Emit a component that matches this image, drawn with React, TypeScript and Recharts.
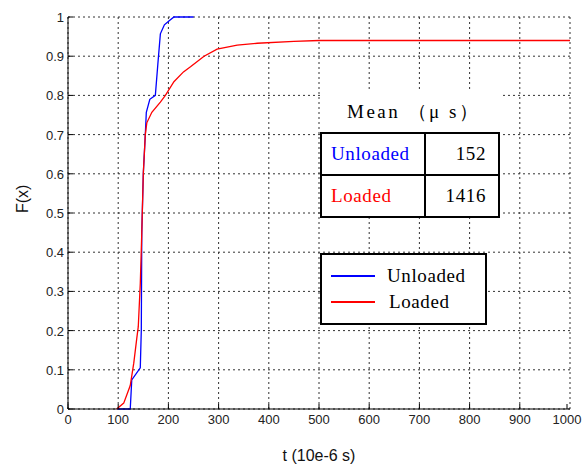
import React from "react";
import { LineChart, Line, XAxis, YAxis, CartesianGrid } from "recharts";

// CDF samples (t in 10e-6 s, F(x))
const unloadedT = [98, 124, 127, 144, 146, 147, 150, 154, 156, 163, 174, 179, 184, 192, 201, 211, 250];
const unloadedF = [0, 0, 0.074, 0.105, 0.2, 0.45, 0.6, 0.7, 0.757, 0.79, 0.8, 0.88, 0.957, 0.98, 0.99, 1, 1];

const loadedT = [97, 111, 124, 131, 137, 140, 144, 147, 150, 154, 157, 167, 184, 194, 211, 230, 244, 271, 297, 337, 377, 450, 500, 1000];
const loadedF = [0, 0.015, 0.06, 0.117, 0.18, 0.21, 0.32, 0.45, 0.6, 0.7, 0.73, 0.757, 0.783, 0.8, 0.835, 0.86, 0.873, 0.9, 0.918, 0.928, 0.933, 0.938, 0.94, 0.94];

const xTicks = [0, 100, 200, 300, 400, 500, 600, 700, 800, 900, 1000];
const yTicks = [0, 0.1, 0.2, 0.3, 0.4, 0.5, 0.6, 0.7, 0.8, 0.9, 1];

const meanLabels = ["Unloaded", "Loaded"];
const meanValues = [152, 1416];

const unloadedData = unloadedT.map((t, i) => ({ t, f: unloadedF[i] }));
const loadedData = loadedT.map((t, i) => ({ t, f: loadedF[i] }));

const sans = "'Liberation Sans', Arial, sans-serif";
const serif = "'Liberation Serif', 'Times New Roman', serif";

const BottomTick = (props: any) => {
  const { x, y, payload } = props;
  return (
    <g>
      <line x1={x} y1={y} x2={x} y2={y - 5} stroke="#000" />
      <text x={x} y={y + 15} textAnchor="middle" fontSize={13} fill="#222" fontFamily={sans}>
        {payload.value}
      </text>
    </g>
  );
};

const TopTick = (props: any) => {
  const { x, y } = props;
  return <line x1={x} y1={y} x2={x} y2={y + 5} stroke="#000" />;
};

const LeftTick = (props: any) => {
  const { x, y, payload } = props;
  return (
    <g>
      <line x1={x} y1={y} x2={x + 5} y2={y} stroke="#000" />
      <text x={x - 4} y={y + 5} textAnchor="end" fontSize={13} fill="#222" fontFamily={sans}>
        {payload.value}
      </text>
    </g>
  );
};

const RightTick = (props: any) => {
  const { x, y } = props;
  return <line x1={x} y1={y} x2={x - 5} y2={y} stroke="#000" />;
};

export default function App() {
  return (
    <div style={{ position: "absolute", left: 0, top: 0, width: 583, height: 467, background: "#fff" }}>
      <LineChart width={583} height={467} margin={{ top: 17, right: 13, left: 0, bottom: 0 }}>
        <CartesianGrid stroke="#333" strokeDasharray="2 3" />
        <XAxis
          type="number"
          dataKey="t"
          domain={[0, 1000]}
          ticks={xTicks}
          height={58}
          tickSize={0}
          tickMargin={0}
          tick={<BottomTick />}
          axisLine={{ stroke: "#000" }}
          label={{ value: "t  (10e-6 s)", position: "insideBottom", offset: 6, fontSize: 16, fill: "#111", fontFamily: sans }}
        />
        <XAxis
          xAxisId="top"
          orientation="top"
          type="number"
          dataKey="t"
          domain={[0, 1000]}
          ticks={xTicks}
          height={0}
          tickSize={0}
          tickMargin={0}
          tick={<TopTick />}
          axisLine={{ stroke: "#000" }}
        />
        <YAxis
          type="number"
          domain={[0, 1]}
          ticks={yTicks}
          width={68}
          tickSize={0}
          tickMargin={0}
          tick={<LeftTick />}
          axisLine={{ stroke: "#000" }}
          label={{ value: "F(x)", angle: -90, position: "insideLeft", offset: 22, fontSize: 16, fill: "#111", fontFamily: sans }}
        />
        <YAxis
          yAxisId="right"
          orientation="right"
          type="number"
          domain={[0, 1]}
          ticks={yTicks}
          width={0}
          tickSize={0}
          tickMargin={0}
          tick={<RightTick />}
          axisLine={{ stroke: "#000" }}
        />
        <Line data={unloadedData} dataKey="f" type="linear" stroke="#0000ff" strokeWidth={1.3} dot={false} isAnimationActive={false} />
        <Line data={loadedData} dataKey="f" type="linear" stroke="#ff0000" strokeWidth={1.3} dot={false} isAnimationActive={false} />
      </LineChart>

      {/* mean table */}
      <div style={{ position: "absolute", left: 320, top: 89, width: 180, height: 43, background: "#fff", fontFamily: serif, fontSize: 19 }}>
        <div style={{ position: "absolute", left: 27, top: 10, whiteSpace: "nowrap", letterSpacing: 2.5 }}>Mean （μ s）</div>
      </div>
      <table
        style={{
          position: "absolute",
          left: 320,
          top: 132,
          width: 180,
          height: 86,
          borderCollapse: "collapse",
          border: "2px solid #000",
          background: "#fff",
          fontFamily: serif,
          fontSize: 19,
          letterSpacing: 0.6,
        }}
      >
        <tbody>
          {meanLabels.map((name, i) => (
            <tr key={name}>
              <td style={{ border: "2px solid #000", width: 92, paddingLeft: 9, color: i === 0 ? "#0000ff" : "#ff0000" }}>{name}</td>
              <td style={{ border: "2px solid #000", textAlign: "right", paddingRight: 12 }}>{meanValues[i]}</td>
            </tr>
          ))}
        </tbody>
      </table>

      {/* legend */}
      <div
        style={{
          position: "absolute",
          left: 320,
          top: 253,
          width: 163,
          height: 68,
          border: "2px solid #000",
          background: "#fff",
          fontFamily: serif,
          fontSize: 19,
          letterSpacing: 0.6,
        }}
      >
        {meanLabels.map((name, i) => (
          <div key={name} style={{ position: "absolute", left: 9, top: 10 + i * 26, display: "flex", alignItems: "center" }}>
            <div style={{ width: 44, height: 2, background: i === 0 ? "#0000ff" : "#ff0000" }} />
            <span style={{ marginLeft: 12 + i * 2 }}>{name}</span>
          </div>
        ))}
      </div>
    </div>
  );
}
